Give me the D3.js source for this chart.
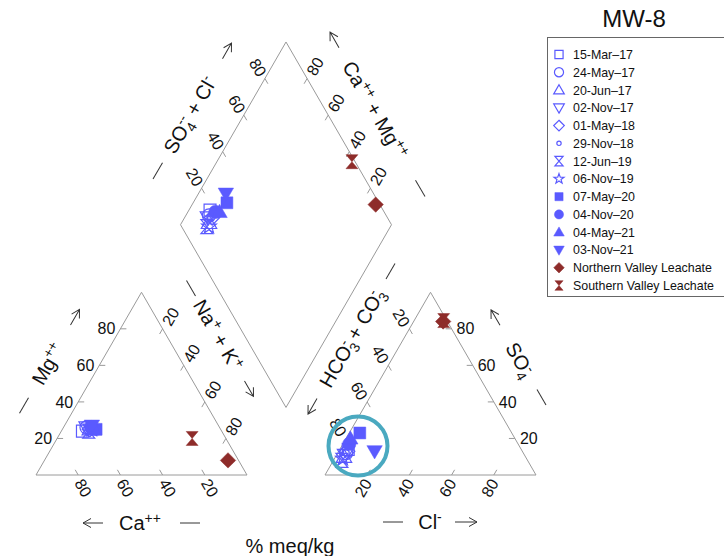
<!DOCTYPE html>
<html>
<head>
<meta charset="utf-8">
<script src="https://cdn.jsdelivr.net/npm/d3@7"></script>
<style>
  body { margin: 0; background: #fff; }
  svg { display: block; }
  text { font-family: "Liberation Sans", Arial, sans-serif; fill: #111; white-space: pre; }
</style>
</head>
<body>
<svg id="chart" width="724" height="556"></svg>
<script>
// ---- data: milliequivalent percentages for each sample ----
const sampleLabels = [
  "15-Mar\u201317", "24-May\u201317", "20-Jun\u201317", "02-Nov\u201317",
  "01-May\u201318", "29-Nov\u201318", "12-Jun\u201319", "06-Nov\u201319",
  "07-May\u201320", "04-Nov\u201320", "04-May\u201321", "03-Nov\u201321",
  "Northern Valley Leachate", "Southern Valley Leachate"
];
// cations (% meq/kg)
const calcium         = [66, 63, 62, 63, 62, 62, 63, 61, 59, 61, 60, 60,  5, 16];
const magnesium       = [24, 26, 25, 26, 25, 26, 24, 25, 25, 26, 25, 27,  8, 20];
const sodiumPotassium = [10, 11, 13, 11, 13, 12, 13, 14, 16, 13, 15, 13, 87, 64];
// anions (% meq/kg)
const bicarbonate     = [82, 84, 86, 85, 83, 84, 88, 87, 72, 80, 78, 70,  2, 1.5];
const sulfate         = [14, 12, 10, 11, 13, 12,  8,  9, 23, 17, 20, 13, 84, 84.5];
const chloride        = [ 4,  4,  4,  4,  4,  4,  4,  4,  5,  3,  2, 17, 14, 14];

const tickValues = [20, 40, 60, 80];
const stationName = "MW-8";
const unitLabel = "% meq/kg";

// ---- marker styles ----
const markerShapes = ["square", "circle", "triangle", "triangleDown", "diamond", "dot",
  "hourglass", "star", "square", "circle", "triangle", "triangleDown", "diamond", "hourglass"];
const markerFilled = [false, false, false, false, false, false, false, false,
  true, true, true, true, true, true];
const markerColors = d3.range(14).map(i => i < 12 ? "#5a5aff" : "#8e2c2a");

// ---- geometry ----
const side = 211, gap = 78, left0 = 36, baseY = 475;
const SIN60 = Math.sin(Math.PI / 3);
const pct = d3.scaleLinear().domain([0, 100]).range([0, side]);
const right0 = left0 + side + gap;
const bottom = [left0 + side + gap / 2, baseY - gap * SIN60];

function norm3(a, b, c) { const t = a + b + c; return [100 * a / t, 100 * b / t, 100 * c / t]; }
function cation(ca, mg, nak) {
  [ca, mg, nak] = norm3(ca, mg, nak);
  return [left0 + pct(nak) + pct(mg) / 2, baseY - pct(mg) * SIN60];
}
function anion(hco3, so4, cl) {
  [hco3, so4, cl] = norm3(hco3, so4, cl);
  return [right0 + pct(cl) + pct(so4) / 2, baseY - pct(so4) * SIN60];
}
// a = Ca + Mg, s = SO4 + Cl
function diamond(a, s) {
  return [bottom[0] + (pct(s) - pct(a)) / 2, bottom[1] - (pct(s) + pct(a)) * SIN60];
}

const svg = d3.select("#chart");

// ---- outlines ----
const outlines = [
  [cation(100, 0, 0), cation(0, 0, 100), cation(0, 100, 0)],
  [anion(100, 0, 0), anion(0, 0, 100), anion(0, 100, 0)],
  [diamond(0, 0), diamond(0, 100), diamond(100, 100), diamond(100, 0)]
];
svg.append("g").attr("fill", "none").attr("stroke", "#9a9a9a").attr("stroke-width", 1)
  .selectAll("path").data(outlines).join("path")
  .attr("d", p => d3.line()(p) + "Z");

// ---- ticks and tick labels ----
const axes = [
  { at: v => cation(v, 0, 100 - v), dir: [-0.5, -SIN60], off: [5, 13], rot: 60, anchor: "middle" },   // Ca
  { at: v => cation(100 - v, v, 0), dir: [1, 0], off: [-5, 0], rot: 0, anchor: "end" },             // Mg
  { at: v => cation(0, 100 - v, v), dir: [-0.5, SIN60], off: [8, -12], rot: -60, anchor: "middle" }, // Na+K
  { at: v => anion(100 - v, 0, v), dir: [0.5, -SIN60], off: [-4, 13], rot: -60, anchor: "middle" },  // Cl
  { at: v => anion(0, v, 100 - v), dir: [-1, 0], off: [5, 0], rot: 0, anchor: "start" },            // SO4
  { at: v => anion(v, 100 - v, 0), dir: [0.5, SIN60], off: [-8, -11], rot: 60, anchor: "middle" },   // HCO3+CO3
  { at: v => diamond(100, v), dir: [0.5, SIN60], off: [-7, -11], rot: 60, anchor: "middle" },        // SO4+Cl
  { at: v => diamond(v, 100), dir: [-0.5, SIN60], off: [8, -12], rot: -60, anchor: "middle" }        // Ca+Mg
];
const tickLen = 6;
const tickLayer = svg.append("g");
axes.forEach(ax => {
  tickValues.forEach(v => {
    const [x, y] = ax.at(v);
    tickLayer.append("line")
      .attr("x1", x).attr("y1", y)
      .attr("x2", x + ax.dir[0] * tickLen).attr("y2", y + ax.dir[1] * tickLen)
      .attr("stroke", "#9a9a9a").attr("stroke-width", 1);
    const lx = x + ax.off[0], ly = y + ax.off[1];
    tickLayer.append("text")
      .attr("transform", `translate(${lx},${ly}) rotate(${ax.rot})`)
      .attr("text-anchor", ax.anchor)
      .attr("dy", "0.35em")
      .attr("font-size", 16)
      .text(v);
  });
});

// ---- axis titles with dash and arrow ----
const TITLE = 20, SUP = -7.5, SUB = 5, SMALL = 14;
function axisTitle(cx, cy, angle, parts, dash, arrow) {
  const g = svg.append("g").attr("transform", `translate(${cx},${cy}) rotate(${angle})`);
  g.append("line").attr("x1", dash[0]).attr("x2", dash[1]).attr("y1", 0).attr("y2", 0)
    .attr("stroke", "#333").attr("stroke-width", 1);
  const t = g.append("text").attr("x", 0).attr("y", 7).attr("text-anchor", "middle").attr("font-size", TITLE);
  let prev = 0;
  parts.forEach(p => {
    const sh = p.sh || 0;
    t.append("tspan").attr("dy", sh - prev).attr("dx", p.dx || 0)
      .attr("font-size", p.fs || TITLE).text(p.t);
    prev = sh;
  });
  const [a0, a1] = arrow;
  const sgn = Math.sign(a1 - a0);
  g.append("path")
    .attr("d", `M${a0},0L${a1},0M${a1 - sgn * 8},-4.5L${a1},0L${a1 - sgn * 8},4.5`)
    .attr("fill", "none").attr("stroke", "#333").attr("stroke-width", 1);
}
axisTitle(48, 364, -60, [{ t: "Mg" }, { t: "++", sh: SUP, fs: SMALL }], [-57, -39], [45, 63]);
axisTitle(140, 523, 0, [{ t: "Ca" }, { t: "++", sh: SUP, fs: SMALL }], [40, 60], [-37, -57]);
axisTitle(218, 335, 60, [{ t: "Na" }, { t: "+", sh: SUP, fs: SMALL }, { t: " + K" }, { t: "+", sh: SUP, fs: SMALL }], [-63, -45], [53, 71]);
axisTitle(352, 338, -60, [{ t: "HCO" }, { t: "3", sh: SUB, fs: SMALL }, { t: "-", sh: SUP, fs: SMALL, dx: -7.5 },
  { t: " + CO" }, { t: "3", sh: SUB, fs: SMALL }, { t: "-", sh: SUP, fs: SMALL, dx: -7.5 }], [68, 86], [-70, -88]);
axisTitle(430, 522, 0, [{ t: "Cl" }, { t: "-", sh: SUP, fs: SMALL }], [-47, -27], [25, 47]);
axisTitle(520, 360, 60, [{ t: "SO" }, { t: "4", sh: SUB, fs: SMALL }, { t: "-", sh: SUP, fs: SMALL, dx: -7.5 }], [34, 52], [-40, -58]);
axisTitle(190, 115, -60, [{ t: "SO" }, { t: "4", sh: SUB, fs: SMALL }, { t: "--", sh: SUP, fs: SMALL, dx: -7.5 },
  { t: " + Cl" }, { t: "-", sh: SUP, fs: SMALL }], [-74, -55], [65, 83]);
axisTitle(375, 110, 60, [{ t: "Ca" }, { t: "++", sh: SUP, fs: SMALL }, { t: " + Mg" }, { t: "++", sh: SUP, fs: SMALL }], [81, 100], [-72, -90]);

// ---- marker shapes ----
function markerPath(shape, r) {
  const p = d3.path();
  if (shape === "square") { const k = r * 0.85; p.rect(-k, -k, 2 * k, 2 * k); }
  else if (shape === "circle") { p.arc(0, 0, r * 0.95, 0, 2 * Math.PI); p.closePath(); }
  else if (shape === "dot") { p.moveTo(r * 0.45, 0); p.arc(0, 0, r * 0.45, 0, 2 * Math.PI); p.closePath(); }
  else if (shape === "triangle") { p.moveTo(0, -1.1 * r); p.lineTo(1.1 * r, 0.8 * r); p.lineTo(-1.1 * r, 0.8 * r); p.closePath(); }
  else if (shape === "triangleDown") { p.moveTo(0, 1.1 * r); p.lineTo(1.1 * r, -0.8 * r); p.lineTo(-1.1 * r, -0.8 * r); p.closePath(); }
  else if (shape === "diamond") { const k = 1.1 * r; p.moveTo(0, -k); p.lineTo(k, 0); p.lineTo(0, k); p.lineTo(-k, 0); p.closePath(); }
  else if (shape === "hourglass") { const w = 0.85 * r, h = r; p.moveTo(-w, -h); p.lineTo(w, -h); p.lineTo(-w, h); p.lineTo(w, h); p.closePath(); }
  else if (shape === "star") {
    for (let k = 0; k < 10; k++) {
      const rr = k % 2 ? r * 0.45 : r * 1.1, a = -Math.PI / 2 + k * Math.PI / 5;
      const x = rr * Math.cos(a), y = rr * Math.sin(a);
      k ? p.lineTo(x, y) : p.moveTo(x, y);
    }
    p.closePath();
  }
  return p.toString();
}
function drawMarker(g, i, x, y, r) {
  g.append("path")
    .attr("transform", `translate(${x},${y})`)
    .attr("d", markerPath(markerShapes[i], r))
    .attr("fill", markerFilled[i] ? markerColors[i] : "none")
    .attr("stroke", markerColors[i])
    .attr("stroke-width", markerFilled[i] ? 0.5 : 1.2);
}

// ---- plotted samples ----
const points = d3.range(sampleLabels.length).map(i => ({
  i,
  cat: cation(calcium[i], magnesium[i], sodiumPotassium[i]),
  an: anion(bicarbonate[i], sulfate[i], chloride[i]),
  dia: diamond(
    100 * (calcium[i] + magnesium[i]) / (calcium[i] + magnesium[i] + sodiumPotassium[i]),
    100 * (sulfate[i] + chloride[i]) / (bicarbonate[i] + sulfate[i] + chloride[i]))
}));
const markLayer = svg.append("g");
points.forEach(d => {
  drawMarker(markLayer, d.i, d.cat[0], d.cat[1], 7);
  drawMarker(markLayer, d.i, d.an[0], d.an[1], 7);
  drawMarker(markLayer, d.i, d.dia[0], d.dia[1], 7);
});

// highlight ring around the well samples in the anion triangle
svg.append("circle").attr("cx", 358).attr("cy", 446).attr("r", 29.5)
  .attr("fill", "none").attr("stroke", "#4aa9c0").attr("stroke-width", 4);

// ---- legend ----
const legend = svg.append("g");
legend.append("rect").attr("x", 547.5).attr("y", 37.5).attr("width", 190).attr("height", 259)
  .attr("fill", "#fff").attr("stroke", "#666").attr("stroke-width", 1);
const rowY = d3.scalePoint().domain(d3.range(sampleLabels.length)).range([54.5, 285.5]);
sampleLabels.forEach((lab, i) => {
  drawMarker(legend, i, 559, rowY(i), 4.8);
  legend.append("text").attr("x", 573).attr("y", rowY(i)).attr("dy", "0.36em")
    .attr("font-size", 12.4).attr("fill", "#222").text(lab);
});

// ---- titles ----
svg.append("text").attr("x", 634).attr("y", 27).attr("text-anchor", "middle")
  .attr("font-size", 24).text(stationName);
svg.append("text").attr("x", 290).attr("y", 553).attr("text-anchor", "middle")
  .attr("font-size", 20).text(unitLabel);
</script>
</body>
</html>
